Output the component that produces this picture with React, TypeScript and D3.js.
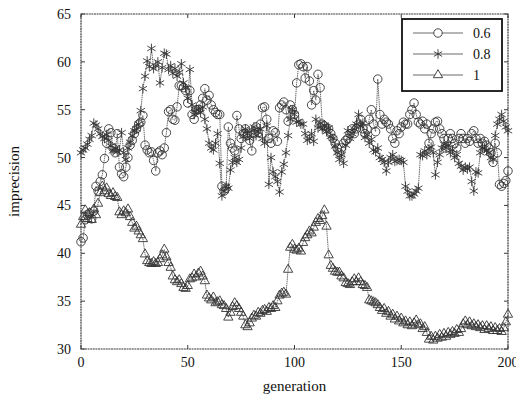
import { useEffect, useRef } from 'react';
import * as d3 from 'd3';

const xTicks = [0, 50, 100, 150, 200];
const yTicks = [30, 35, 40, 45, 50, 55, 60, 65];

const seriesNames = ['0.6', '0.8', '1'];

// imprecision per generation 0..200
const rate06 = [
  41.2, 41.6, 43.5, 44.0, 44.2, 43.6, 44.4, 47.0, 46.5, 47.5,
  48.2, 49.9, 51.5, 53.0, 52.6, 51.0, 50.5, 52.5, 49.0, 48.3,
  48.0, 49.0, 50.0, 51.3, 51.8, 52.5, 53.0, 53.5, 53.7, 54.4,
  51.3, 50.8, 50.5, 50.6, 49.7, 48.6, 50.5, 50.7, 50.3, 51.0,
  52.6, 54.8, 55.0, 54.0, 53.9, 55.3, 57.5, 57.5, 57.3, 57.0,
  55.7, 57.0, 54.5, 54.0, 55.0, 55.0, 55.5, 56.2, 57.2, 56.0,
  56.5, 55.5, 55.0, 54.7, 54.5, 54.5, 47.0, 46.5, 46.8, 53.2,
  51.5, 51.0, 50.7, 54.4, 53.0, 52.0, 52.5, 53.0, 52.3, 51.8,
  50.7, 52.5, 53.2, 52.6, 53.5, 55.2, 55.3, 54.0, 52.0, 51.5,
  52.8, 52.6, 51.7, 55.2, 55.5, 55.8, 55.0, 53.8, 55.5, 55.0,
  54.5, 57.8, 59.7, 59.8, 59.5, 58.3, 59.5, 58.0, 55.5, 57.0,
  56.0, 58.7, 57.3, 53.5, 53.3, 53.0, 53.0, 52.5, 52.0, 51.5,
  51.0, 50.5, 51.0, 51.5, 51.8, 52.0, 52.5, 53.0, 52.5, 53.0,
  53.5, 54.0, 53.0, 52.5, 53.0, 54.0, 55.0, 53.5, 52.7, 58.2,
  54.5, 53.5, 54.0, 53.7, 53.5, 53.0, 52.0, 51.5, 52.8, 52.5,
  53.2, 53.7, 53.5, 53.5, 54.5, 55.0, 55.7, 54.5, 53.7, 53.5,
  53.8, 53.0, 53.5, 51.5, 52.5, 53.0, 53.7, 53.8, 53.0, 52.5,
  52.0, 51.0, 52.0, 52.5, 52.0, 51.5, 51.0, 52.0, 52.5, 52.0,
  51.5, 52.0, 51.7, 52.5, 52.8, 52.0, 51.5, 52.0, 51.5, 51.7,
  51.3, 51.0, 50.5, 49.5, 51.5, 50.5, 47.2, 47.0, 47.3, 47.6,
  48.6,
];

const rate08 = [
  50.5, 50.8, 51.0, 51.4, 51.9, 52.3, 53.6, 53.4, 53.0, 52.5,
  52.2, 52.0, 52.4, 51.8, 51.2, 50.7, 51.0, 50.6, 50.8, 52.6,
  50.5, 49.8, 51.0, 51.6, 52.3, 52.8, 53.0, 53.5, 54.9, 57.2,
  58.5, 60.1, 59.5, 61.4, 59.3, 59.6, 60.0, 57.8, 59.4, 60.9,
  60.8, 59.2, 59.6, 58.8, 59.3, 58.5, 58.9, 59.8, 57.8, 57.3,
  56.2, 59.2, 55.5, 54.5, 55.0, 55.0, 54.7, 55.3, 54.0, 53.0,
  51.5, 51.0, 50.8, 51.5, 52.5, 49.4, 46.0, 46.5, 47.0, 46.8,
  48.7, 49.5, 50.0, 49.5, 49.8, 51.0, 52.2, 53.0, 52.5, 52.0,
  52.8, 53.2, 52.3, 52.7, 53.0, 52.0, 51.5, 53.3, 47.2, 50.0,
  48.5, 48.0, 47.5, 46.4, 48.5, 49.3, 50.5, 52.3, 54.0, 55.0,
  54.5, 53.7, 53.8, 53.5, 53.5, 52.5, 51.8, 52.0, 52.5, 51.7,
  54.0, 53.1, 53.6, 53.0, 53.4, 52.7, 53.1, 52.2, 52.0, 51.2,
  50.5, 49.8, 50.3, 49.4, 51.3, 52.8, 52.0, 52.5, 53.0, 53.5,
  54.5, 53.3, 53.6, 52.1, 52.4, 51.5, 51.9, 50.8, 50.6, 51.0,
  50.0, 49.8, 49.5, 48.6, 49.5, 50.0, 50.3, 49.6, 49.7, 49.8,
  49.7, 49.5, 47.0, 46.5, 46.0, 46.0, 46.2, 46.5, 46.8, 50.3,
  50.2, 50.7, 50.3, 50.9, 51.1, 50.5, 48.2, 49.5, 50.3, 51.0,
  51.4, 51.0, 51.3, 50.5, 50.8, 50.0, 50.3, 49.4, 49.1, 48.7,
  49.0, 48.8, 49.0, 47.5, 46.5, 48.5, 48.4, 50.5, 51.0, 51.0,
  50.7, 50.5, 50.0, 49.8, 52.3, 53.5, 54.0, 54.5, 53.8, 53.2,
  52.8,
];

const rate1 = [
  43.0, 43.8, 44.5, 43.6, 44.2, 43.5, 44.6, 44.0, 45.2, 46.3,
  47.0, 46.5, 46.8, 46.2, 46.0, 46.3, 45.9, 45.8, 44.3, 44.0,
  44.4, 44.2, 44.6, 43.8, 43.2, 42.6, 42.8, 42.3, 41.9, 41.5,
  39.9, 39.2, 39.0, 38.9, 39.1, 38.9, 39.0, 39.4, 39.8, 40.4,
  39.6, 39.0, 38.5, 37.6, 37.2, 37.0, 37.2, 36.8, 36.4, 36.3,
  36.6, 37.3, 37.4, 37.8, 37.5, 37.9, 38.1, 37.6, 37.1, 35.6,
  35.3, 35.1, 35.4, 34.8, 34.9, 35.0, 34.6, 34.5, 34.2, 33.3,
  33.8, 34.4, 34.8, 34.5, 34.2, 33.8, 33.4, 32.5, 32.3, 32.7,
  33.2, 33.5, 33.4, 33.8, 33.7, 34.0, 34.1, 33.9, 34.3, 34.2,
  34.5, 34.3, 35.0, 35.6, 35.8, 35.9, 35.7, 38.3, 40.6, 40.9,
  40.4, 40.3, 40.5, 40.2, 41.1, 41.6, 41.9, 42.3, 42.1, 42.7,
  43.2, 43.6, 43.4, 43.9, 44.5, 42.8, 39.8, 38.7, 38.4, 38.1,
  38.0, 38.0, 37.6, 37.4, 36.9, 36.8, 36.7, 37.0, 37.3, 37.0,
  37.4, 37.0, 36.7, 36.6, 36.4, 35.1, 35.0, 34.9, 34.8, 34.6,
  34.3, 34.0, 34.2, 33.7, 33.9, 33.4, 33.6, 33.1, 33.4, 32.9,
  33.2, 32.7, 32.9, 32.5, 32.8, 32.4, 32.7, 33.0, 32.5, 32.6,
  32.1, 32.3, 31.7, 31.0, 31.3, 30.9, 31.3, 31.1, 31.5, 31.2,
  31.6, 31.3, 31.7, 31.5, 31.8, 31.6, 32.0, 31.7, 32.1, 32.6,
  32.9, 32.5, 32.8, 32.4, 32.6, 32.3, 32.5, 32.2, 32.4, 32.0,
  32.4, 32.1, 32.3, 31.9, 32.2, 31.9, 32.1, 31.8, 32.2, 32.8,
  33.6,
];

const WIDTH = 516;
const HEIGHT = 394;
const FONT = '"Liberation Serif", "DejaVu Serif", serif';
const INK = '#3a3a3a';

export default function App() {
  const svgRef = useRef<SVGSVGElement>(null);

  useEffect(() => {
    if (!svgRef.current) return;
    const margin = { top: 14, right: 8, bottom: 45, left: 81 };
    const innerWidth = WIDTH - margin.left - margin.right;
    const innerHeight = HEIGHT - margin.top - margin.bottom;

    const svg = d3.select(svgRef.current);
    svg.selectAll('*').remove();

    const g = svg.append('g').attr('transform', `translate(${margin.left},${margin.top})`);

    const xScale = d3.scaleLinear().domain([0, 200]).range([0, innerWidth]);
    const yScale = d3.scaleLinear().domain([30, 65]).range([innerHeight, 0]);

    const symbols = [
      d3.symbol().type(d3.symbolCircle).size(56),
      d3.symbol().type(d3.symbolAsterisk).size(64),
      d3.symbol().type(d3.symbolTriangle2).size(62),
    ];

    const allSeries = [rate06, rate08, rate1];

    // frame
    g.append('rect')
      .attr('width', innerWidth)
      .attr('height', innerHeight)
      .attr('fill', 'none')
      .attr('stroke', INK)
      .attr('stroke-width', 1.2)
      .attr('stroke-dasharray', '2,0.6');

    // inward ticks on all sides
    const tickLen = 4;
    xTicks.forEach((t) => {
      const x = xScale(t);
      g.append('line').attr('x1', x).attr('x2', x).attr('y1', innerHeight).attr('y2', innerHeight - tickLen).attr('stroke', INK);
      g.append('line').attr('x1', x).attr('x2', x).attr('y1', 0).attr('y2', tickLen).attr('stroke', INK);
      g.append('text')
        .attr('x', x)
        .attr('y', innerHeight + 18)
        .attr('text-anchor', 'middle')
        .attr('font-family', FONT)
        .attr('font-size', '14px')
        .attr('fill', '#111')
        .text(t);
    });
    yTicks.forEach((t) => {
      const y = yScale(t);
      g.append('line').attr('x1', 0).attr('x2', tickLen).attr('y1', y).attr('y2', y).attr('stroke', INK);
      g.append('line').attr('x1', innerWidth).attr('x2', innerWidth - tickLen).attr('y1', y).attr('y2', y).attr('stroke', INK);
      g.append('text')
        .attr('x', -10)
        .attr('y', y + 5)
        .attr('text-anchor', 'end')
        .attr('font-family', FONT)
        .attr('font-size', '14px')
        .attr('fill', '#111')
        .text(t);
    });

    const line = d3.line<number>()
      .x((_, i) => xScale(i))
      .y((d) => yScale(d));

    allSeries.forEach((values, si) => {
      g.append('path')
        .datum(values)
        .attr('fill', 'none')
        .attr('stroke', '#444')
        .attr('stroke-width', 0.8)
        .attr('stroke-dasharray', '1.5,0.7')
        .attr('d', line);

      g.selectAll(`.m${si}`)
        .data(values)
        .enter()
        .append('path')
        .attr('class', `m${si}`)
        .attr('transform', (d, i) => `translate(${xScale(i)},${yScale(d)})`)
        .attr('d', symbols[si]()!)
        .attr('fill', 'none')
        .attr('stroke', '#333')
        .attr('stroke-width', 0.9);
    });

    // legend
    const legend = g.append('g').attr('transform', `translate(${402 - margin.left},${19 - margin.top})`);
    legend.append('rect')
      .attr('width', 100)
      .attr('height', 72)
      .attr('fill', '#fff')
      .attr('stroke', '#111')
      .attr('stroke-width', 1.8);
    seriesNames.forEach((name, i) => {
      const y = 14 + i * 21;
      legend.append('line')
        .attr('x1', 11).attr('x2', 61).attr('y1', y).attr('y2', y)
        .attr('stroke', '#444').attr('stroke-width', 0.8);
      legend.append('path')
        .attr('transform', `translate(36,${y})`)
        .attr('d', symbols[i]()!)
        .attr('fill', '#fff')
        .attr('stroke', '#333')
        .attr('stroke-width', 0.9);
      legend.append('text')
        .attr('x', 71)
        .attr('y', y + 5)
        .attr('font-family', FONT)
        .attr('font-size', '14px')
        .attr('fill', '#111')
        .text(name);
    });

    // axis titles
    g.append('text')
      .attr('x', innerWidth / 2)
      .attr('y', innerHeight + 42)
      .attr('text-anchor', 'middle')
      .attr('font-family', FONT)
      .attr('font-size', '15px')
      .attr('fill', '#111')
      .text('generation');

    g.append('text')
      .attr('transform', 'rotate(-90)')
      .attr('x', -innerHeight / 2)
      .attr('y', -62)
      .attr('text-anchor', 'middle')
      .attr('font-family', FONT)
      .attr('font-size', '15px')
      .attr('fill', '#111')
      .text('imprecision');
  }, []);

  return (
    <svg
      ref={svgRef}
      width={WIDTH}
      height={HEIGHT}
      style={{ position: 'absolute', left: 0, top: 0, background: '#fff' }}
    />
  );
}
